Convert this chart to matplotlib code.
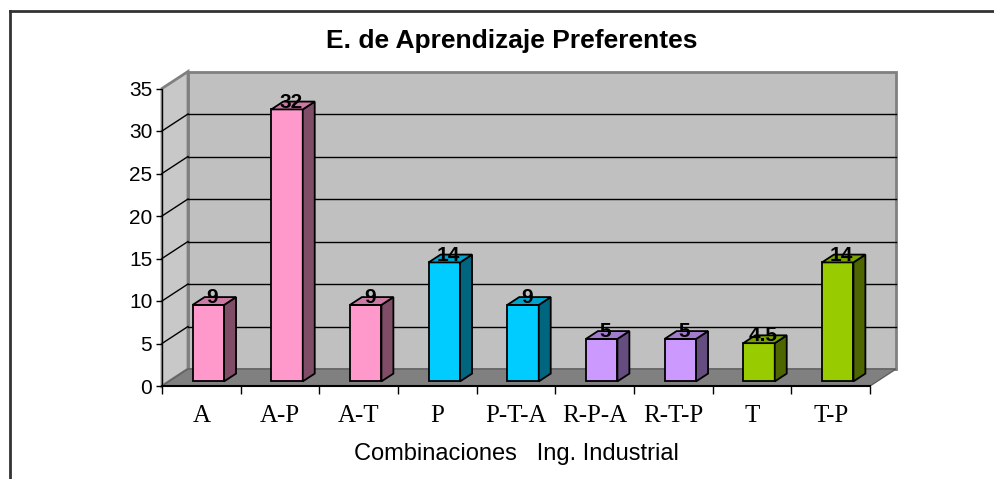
import numpy as np
import matplotlib.pyplot as plt
from matplotlib.patches import Polygon
from matplotlib.colors import to_rgb
from matplotlib.lines import Line2D

categories = ['A', 'A-P', 'A-T', 'P', 'P-T-A', 'R-P-A', 'R-T-P', 'T', 'T-P']
values = [9, 32, 9, 14, 9, 5, 5, 4.5, 14]
labels = ['9', '32', '9', '14', '9', '5', '5', '4.5', '14']
colors = ['#FF99CC', '#FF99CC', '#FF99CC', '#00CCFF', '#00CCFF',
          '#CC99FF', '#CC99FF', '#99CC00', '#99CC00']

W, H = 994, 479
fig = plt.figure(figsize=(W / 100, H / 100), dpi=100)

# front plane of the 3d box in pixels
x0, x1 = 162, 870
y0, y1 = 386, 88.5
ax = fig.add_axes([x0 / W, (H - y0) / H, (x1 - x0) / W, (y0 - y1) / H])
ax.set_xlim(-0.5, 8.5)
ax.set_ylim(0, 35)

DX = 26 / ((x1 - x0) / 9)   # depth offset in category units
DY = 2.0                    # depth offset in value units
f0, f1 = 0.27, 0.73         # bar front/back depth
bw = 0.4

def P(pts, **kw):
    ax.add_patch(Polygon(pts, closed=True, clip_on=False, **kw))

# walls and floor
P([(-0.5 + DX, DY), (8.5 + DX, DY), (8.5 + DX, 35 + DY), (-0.5 + DX, 35 + DY)],
  facecolor='#C0C0C0', edgecolor='#808080', lw=2, zorder=0)
P([(-0.5, 0), (-0.5 + DX, DY), (-0.5 + DX, 35 + DY), (-0.5, 35)],
  facecolor='#C8C8C8', edgecolor='#808080', lw=2, zorder=0)
P([(-0.5, 0), (8.5, 0), (8.5 + DX, DY), (-0.5 + DX, DY)],
  facecolor='#808080', edgecolor='#606060', lw=1, zorder=0.5)

for v in range(5, 35, 5):
    ax.plot([-0.5 + DX, 8.5 + DX], [v + DY, v + DY], color='black', lw=1,
            clip_on=False, zorder=0.6)
    ax.plot([-0.5, -0.5 + DX], [v, v + DY], color='black', lw=1,
            clip_on=False, zorder=0.6)

# bars: front faces
xs = np.arange(len(categories))
ax.bar(xs + f0 * DX, values, width=bw, bottom=f0 * DY, color=colors,
       edgecolor='black', linewidth=1.3, zorder=2)

d = f1 - f0
for x, v, c, t in zip(xs, values, colors, labels):
    rgb = np.array(to_rgb(c))
    l = x + f0 * DX - bw / 2
    r = x + f0 * DX + bw / 2
    b = f0 * DY
    top = b + v
    # side
    P([(r, b), (r + d * DX, b + d * DY), (r + d * DX, top + d * DY), (r, top)],
      facecolor=rgb * 0.5, edgecolor='black', lw=1.3, zorder=2)
    # top
    P([(l, top), (r, top), (r + d * DX, top + d * DY), (l + d * DX, top + d * DY)],
      facecolor=rgb * 0.8, edgecolor='black', lw=1.3, zorder=2)
    ax.text(x + 0.42 * DX, top + 0.2, t, ha='center', va='baseline',
            fontsize=15, fontweight='bold', family='Liberation Sans', zorder=3)

# axes
for s in ['top', 'right']:
    ax.spines[s].set_visible(False)
ax.spines['left'].set_color('black')
ax.spines['bottom'].set_color('black')
ax.spines['bottom'].set_linewidth(1.5)
ax.spines['left'].set_zorder(1)
ax.patch.set_visible(False)

ax.set_yticks(range(0, 36, 5))
ax.tick_params(axis='y', length=4, width=1, pad=3, labelsize=15)
for lab in ax.get_yticklabels():
    lab.set_family('Liberation Sans')

ax.set_xticks(np.arange(-0.5, 9, 1))
ax.set_xticklabels([])
ax.set_xticks(xs, minor=True)
ax.set_xticklabels(categories, minor=True, family='Liberation Serif', fontsize=18)
ax.tick_params(axis='x', which='major', length=6, width=1)
ax.tick_params(axis='x', which='minor', length=0, pad=14)

ax.set_xlabel('Combinaciones   Ing. Industrial', family='Liberation Sans',
              fontsize=17, labelpad=11)

fig.text(512 / W, 1 - 41 / H, 'E. de Aprendizaje Preferentes', ha='center',
         va='center', fontsize=19, fontweight='bold', family='Liberation Sans')

# outer frame
fig.add_artist(Line2D([10 / W, 10 / W], [-0.1, 1 - 11 / H], color='#333333', lw=2,
                      transform=fig.transFigure))
fig.add_artist(Line2D([10 / W, 1.1], [1 - 11 / H, 1 - 11 / H], color='#333333', lw=2,
                      transform=fig.transFigure))

fig.savefig('out.png', dpi=100)
